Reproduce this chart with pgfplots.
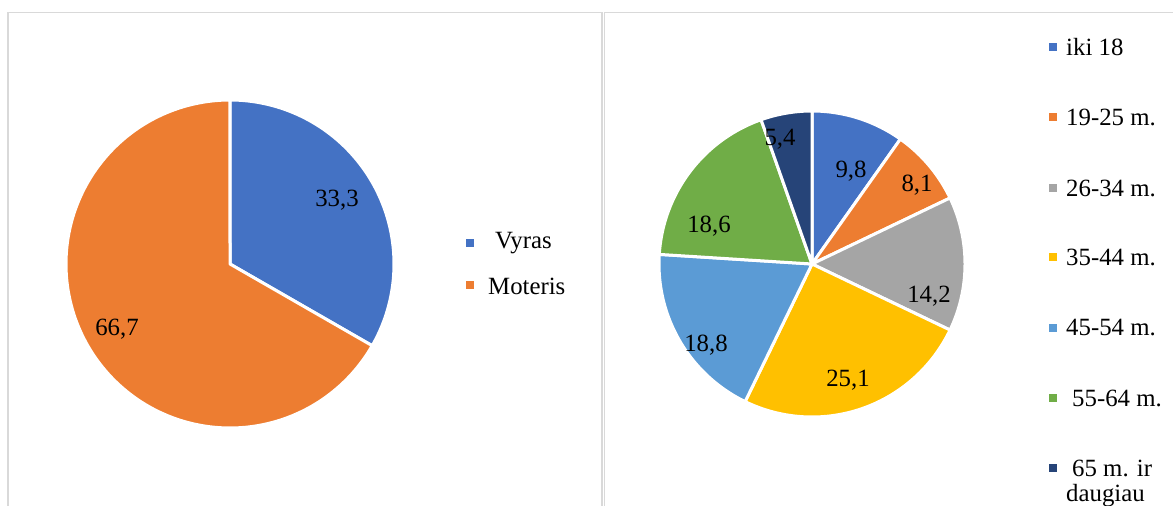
\documentclass[border=0pt]{standalone}
\usepackage{pgfplots}
\pgfplotsset{compat=1.18}
\usepackage{pgfplotstable}
\usepackage{fontspec}
\setmainfont{Liberation Serif}
\definecolor{c1}{HTML}{4472C4}
\definecolor{c2}{HTML}{ED7D31}
\definecolor{c3}{HTML}{A5A5A5}
\definecolor{c4}{HTML}{FFC000}
\definecolor{c5}{HTML}{5B9BD5}
\definecolor{c6}{HTML}{70AD47}
\definecolor{c7}{HTML}{264478}
\definecolor{frame}{HTML}{D9D9D9}
\newcommand\fs{\fontsize{24.8}{29}\selectfont}

\pgfplotstableread{
value col
33.3 c1
66.7 c2
}\gender

\pgfplotstableread{
value col
9.8 c1
8.1 c2
14.2 c3
25.1 c4
18.8 c5
18.6 c6
5.4 c7
}\age

% #1 table, #2 cx, #3 cy, #4 r
\newcommand{\drawpie}[4]{%
  \pgfplotstablegetrowsof{#1}\pgfmathtruncatemacro\lastrow{\pgfplotsretval-1}%
  \def\cum{0}%
  \pgfplotsforeachungrouped \i in {0,...,\lastrow}{%
    \pgfplotstablegetelem{\i}{value}\of{#1}\let\v\pgfplotsretval
    \pgfplotstablegetelem{\i}{col}\of{#1}\let\c\pgfplotsretval
    \pgfmathsetmacro\a{\cum*3.6}%
    \pgfmathsetmacro\cum{\cum+\v}%
    \pgfmathsetmacro\b{\cum*3.6}%
    \edef\tmp{\noexpand\addplot[fill=\c, draw=white, line width=3pt, line join=round,
      domain=\a:\b, samples=80, smooth]
      ({#2+#4*sin(\noexpand\x)},{#3-#4*cos(\noexpand\x)}) -- (axis cs:#2,#3) -- cycle;}%
    \tmp
  }%
}

\begin{document}
\begin{tikzpicture}
\begin{axis}[hide axis, scale only axis, width=1173pt, height=506pt,
  xmin=0, xmax=1173, ymin=0, ymax=506, y dir=reverse, clip=true]
  % panel frames
  \draw[frame, line width=1.3pt] (axis cs:8,506) -- (axis cs:8,12.7) -- (axis cs:602,12.7) -- (axis cs:602,506);
  \draw[frame, line width=1.3pt] (axis cs:604.5,506) -- (axis cs:604.5,12.7) -- (axis cs:1173,12.7);
  % pies
  \drawpie{\gender}{230}{264}{164}
  \drawpie{\age}{812}{264}{153}
  % slice labels
  \node[font=\fs] at (axis cs:337,200) {33,3};
  \node[font=\fs] at (axis cs:117,329) {66,7};
  \node[font=\fs] at (axis cs:851,171) {9,8};
  \node[font=\fs] at (axis cs:917,185) {8,1};
  \node[font=\fs] at (axis cs:929,296) {14,2};
  \node[font=\fs] at (axis cs:848,380) {25,1};
  \node[font=\fs] at (axis cs:706,345) {18,8};
  \node[font=\fs] at (axis cs:709,226) {18,6};
  \node[font=\fs] at (axis cs:780,139) {5,4};
  % left legend
  \fill[c1] (axis cs:466,239) rectangle (axis cs:474,247);
  \node[font=\fs, anchor=west, inner sep=0pt] at (axis cs:495,243) {Vyras};
  \fill[c2] (axis cs:466,281) rectangle (axis cs:474,289);
  \node[font=\fs, anchor=west, inner sep=0pt] at (axis cs:488,286) {Moteris};
  % right legend
  \fill[c1] (axis cs:1049,43) rectangle (axis cs:1057,51);
  \node[font=\fs, anchor=west, inner sep=0pt] at (axis cs:1066,47) {iki 18};
  \fill[c2] (axis cs:1049,113) rectangle (axis cs:1057,121);
  \node[font=\fs, anchor=west, inner sep=0pt] at (axis cs:1066,117) {19-25 m.};
  \fill[c3] (axis cs:1049,184) rectangle (axis cs:1057,192);
  \node[font=\fs, anchor=west, inner sep=0pt] at (axis cs:1066,188) {26-34 m.};
  \fill[c4] (axis cs:1049,253) rectangle (axis cs:1057,261);
  \node[font=\fs, anchor=west, inner sep=0pt] at (axis cs:1066,257) {35-44 m.};
  \fill[c5] (axis cs:1049,324) rectangle (axis cs:1057,332);
  \node[font=\fs, anchor=west, inner sep=0pt] at (axis cs:1066,328) {45-54 m.};
  \fill[c6] (axis cs:1049,394) rectangle (axis cs:1057,402);
  \node[font=\fs, anchor=west, inner sep=0pt] at (axis cs:1072,398) {55-64 m.};
  \fill[c7] (axis cs:1049,464) rectangle (axis cs:1057,472);
  \node[font=\fs, anchor=west, inner sep=0pt] at (axis cs:1072,468) {65 m. ir};
  \node[font=\fs, anchor=west, inner sep=0pt] at (axis cs:1066,496) {daugiau};
\end{axis}
\pgfresetboundingbox
\path[use as bounding box] (current axis.south west) rectangle (current axis.north east);
\end{tikzpicture}
\end{document}
